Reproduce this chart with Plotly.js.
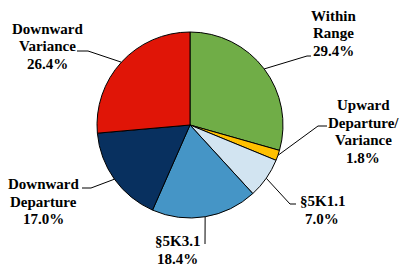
<!DOCTYPE html>
<html><head><meta charset="utf-8">
<script src="https://cdn.plot.ly/plotly-3.0.1.min.js"></script>
</head><body style="margin:0"><div id="chart"></div>
<script>
const categories = ["Within Range", "Upward Departure/ Variance", "§5K1.1", "§5K3.1", "Downward Departure", "Downward Variance"];
const labelLines = [["Within", "Range"], ["Upward", "Departure/", "Variance"], ["§5K1.1"], ["§5K3.1"], ["Downward", "Departure"], ["Downward", "Variance"]];
const values = [29.4, 1.8, 7.0, 18.4, 17.0, 26.4];
const colors = ["#70AD47", "#FFC000", "#D2E4F1", "#4595C6", "#08305F", "#E01507"];

const W = 401, H = 267;
const cx = 190, cy = 125, r = 93;
const lineGap = 17.5;
// first-line centre (px) of each label, and leader elbow/end points (px)
const labelPos = [[333, 16], [363, 105], [322, 201], [177, 241], [43, 184], [47, 29]];
const leaderTail = [
  [[307, 56], [311, 56]],
  [[318, 126], [327, 126]],
  [[290, 204], [296, 204]],
  [[205, 244]],
  [[91, 188], [82, 188]],
  [[88, 51], [77, 51]]
];
const px = x => x / W, py = y => 1 - y / H;

const total = values.reduce((a, b) => a + b, 0);
let cum = 0;
const shapes = [], annotations = [];
values.forEach((v, i) => {
  const mid = (cum + v / 2) / total * 2 * Math.PI;
  cum += v;
  const ex = cx + r * Math.sin(mid), ey = cy - r * Math.cos(mid);
  let path = `M ${px(ex)},${py(ey)}`;
  leaderTail[i].forEach(p => { path += ` L ${px(p[0])},${py(p[1])}`; });
  shapes.push({type: 'path', xref: 'paper', yref: 'paper', path: path, line: {color: '#000', width: 1}});
  const lines = labelLines[i].concat([v.toFixed(1) + '%']);
  lines.forEach((t, k) => {
    annotations.push({
      xref: 'paper', yref: 'paper', x: px(labelPos[i][0]), y: py(labelPos[i][1] + k * lineGap),
      xanchor: 'center', yanchor: 'middle', showarrow: false, align: 'center',
      text: '<b>' + t + '</b>',
      font: {family: 'Liberation Serif', size: 15, color: '#000'}
    });
  });
});

const trace = {
  type: 'pie', labels: categories, values: values, sort: false, direction: 'clockwise', rotation: 0,
  marker: {colors: colors, line: {color: '#000', width: 1}},
  textinfo: 'none', hoverinfo: 'none', automargin: false,
  domain: {x: [px(cx - r), px(cx + r)], y: [py(cy + r), py(cy - r)]}
};
Plotly.newPlot('chart', [trace], {
  width: W, height: H, margin: {l: 0, r: 0, t: 0, b: 0},
  showlegend: false, paper_bgcolor: '#fff', shapes: shapes, annotations: annotations
}, {displayModeBar: false});
</script></body></html>
